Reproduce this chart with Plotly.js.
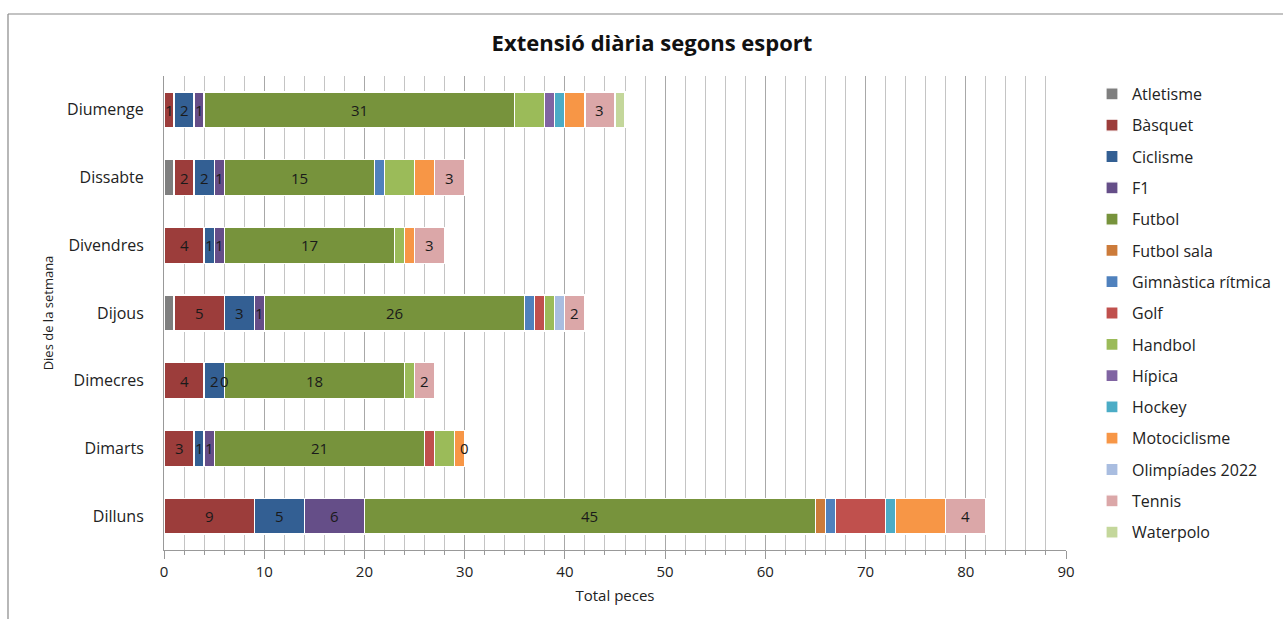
<!DOCTYPE html>
<html>
<head>
<meta charset="utf-8">
<script src="https://cdn.plot.ly/plotly-3.0.1.min.js"></script>
<style>
html,body{margin:0;padding:0;background:#fff;}
#chart{width:1283px;height:619px;}
</style>
</head>
<body>
<div id="chart"></div>
<script>
// Categories (bottom to top)
const days = ['Dilluns','Dimarts','Dimecres','Dijous','Divendres','Dissabte','Diumenge'];

// Series values per day (Dilluns..Diumenge)
const atletisme    = [0,0,0,1,0,1,0];
const basquet      = [9,3,4,5,4,2,1];
const ciclisme     = [5,1,2,3,1,2,2];
const f1           = [6,1,0,1,1,1,1];
const futbol       = [45,21,18,26,17,15,31];
const futbolSala   = [1,0,0,0,0,0,0];
const gimnastica   = [1,0,0,1,0,1,0];
const golf         = [5,1,0,1,0,0,0];
const handbol      = [0,2,1,1,1,3,3];
const hipica       = [0,0,0,0,0,0,1];
const hockey       = [1,0,0,0,0,0,1];
const motociclisme = [5,1,0,0,1,2,2];
const olimpiades   = [0,0,0,1,0,0,0];
const tennis       = [4,0,2,2,3,3,3];
const waterpolo    = [0,0,0,0,0,0,1];

const seriesNames = ['Atletisme','Bàsquet','Ciclisme','F1','Futbol','Futbol sala','Gimnàstica rítmica','Golf','Handbol','Hípica','Hockey','Motociclisme','Olimpíades 2022','Tennis','Waterpolo'];
const seriesValues = [atletisme,basquet,ciclisme,f1,futbol,futbolSala,gimnastica,golf,handbol,hipica,hockey,motociclisme,olimpiades,tennis,waterpolo];
const seriesColors = ['#7f7f7f','#9c3d3b','#335f93','#654e88','#77933c','#cc7b3a','#4f81bd','#c0504d','#9bbb59','#8064a2','#4bacc6','#f79646','#a9bde0','#dba7a8','#c4d79b'];
// Series that carry data labels
const labelled = ['Bàsquet','Ciclisme','F1','Futbol','Tennis'];

const font = '"Open Sans", "Noto Sans", "DejaVu Sans", sans-serif';

const traces = seriesNames.map((name,i)=>({
  type:'bar',
  orientation:'h',
  name:name,
  y:days,
  x:seriesValues[i],
  legendgroup:'g'+i,
  marker:{color:seriesColors[i], line:{color:'#ffffff', width:1.2}},
  hoverinfo:'x+name'
}));

// Data labels positioned at the middle of each segment (computed from data)
const annotations = [];
const cum = days.map(()=>0);
seriesNames.forEach((name,i)=>{
  const vals = seriesValues[i];
  days.forEach((d,j)=>{
    const v = vals[j];
    if (labelled.includes(name)) {
      annotations.push({
        x: cum[j] + v/2, y: d, xref:'x', yref:'y',
        text: String(v), showarrow:false,
        font:{family:font, size:15, color:'#1a1a1a'},
        xanchor:'center', yanchor:'middle'
      });
    }
    cum[j] += v;
  });
});

const L = 164, R = 1066, T = 76, B = 550, W = 1283, H = 619;
const px = x => (x - L) / (R - L);
const py = y => (B - y) / (B - T);

const layout = {
  width:W, height:H,
  margin:{l:L, r:W-R, t:T, b:H-B, pad:0, autoexpand:false},
  paper_bgcolor:'#ffffff',
  plot_bgcolor:'#ffffff',
  barmode:'stack',
  bargap:0.47,
  font:{family:font, size:15, color:'#222'},
  title:{text:'<b>Extensió diària segons esport</b>', x:652/W, xanchor:'center', y:1-43/H, yanchor:'middle',
         font:{family:font, size:22, color:'#111'}},
  xaxis:{
    range:[0,90], dtick:10, tick0:0,
    showgrid:true, gridcolor:'#a8a8a8', gridwidth:1,
    minor:{dtick:2, showgrid:true, gridcolor:'#c4c4c4', gridwidth:1, ticks:'outside', ticklen:4, tickcolor:'#999'},
    ticks:'outside', ticklen:8, tickcolor:'#999',
    showline:true, linecolor:'#999', linewidth:1,
    zeroline:false,
    tickfont:{family:font, size:15, color:'#222'},
    title:{text:'Total peces', standoff:10, font:{family:font, size:15, color:'#222'}},
    automargin:false,
    fixedrange:true
  },
  yaxis:{
    type:'category',
    showgrid:false,
    showline:true, linecolor:'#999', linewidth:1,
    ticks:'', ticklen:0,
    tickfont:{family:font, size:16, color:'#222'},
    ticklabelstandoff:16,
    title:{text:'Dies de la setmana', standoff:10, font:{family:font, size:13, color:'#222'}},
    automargin:false,
    fixedrange:true
  },
  legend:{
    x:px(1092), xanchor:'left', y:py(77), yanchor:'top',
    traceorder:'grouped', tracegroupgap:7.5,
    maxheight:560,
    font:{family:font, size:16, color:'#222'},
    itemwidth:30, bgcolor:'rgba(0,0,0,0)'
  },
  annotations:annotations,
  shapes:[
    {type:'line', xref:'paper', yref:'paper', x0:px(8), x1:px(W+5), y0:py(14), y1:py(14), line:{color:'#888', width:1.2}},
    {type:'line', xref:'paper', yref:'paper', x0:px(8), x1:px(8), y0:py(14), y1:py(H+5), line:{color:'#888', width:1.2}}
  ],
  showlegend:true
};

Plotly.newPlot('chart', traces, layout, {displayModeBar:false, staticPlot:true});
</script>
</body>
</html>
